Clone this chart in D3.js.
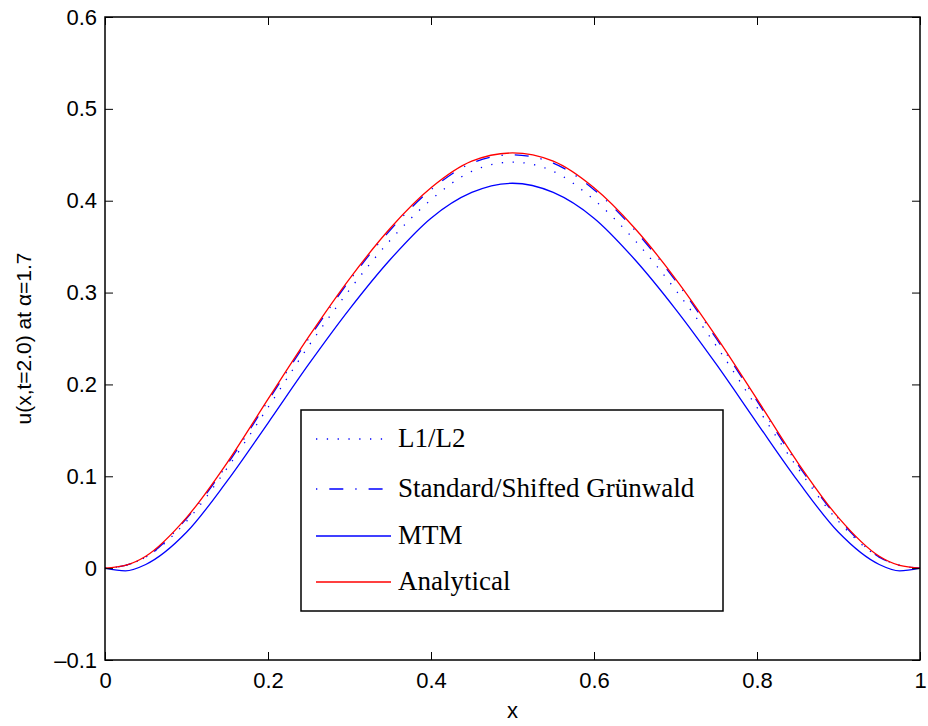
<!DOCTYPE html>
<html>
<head>
<meta charset="utf-8">
<script src="https://cdn.jsdelivr.net/npm/d3@7"></script>
<style>
  body { margin: 0; background: #fff; }
  svg { display: block; }
</style>
</head>
<body>
<svg id="mainsvg" width="928" height="726"></svg>
<script>
// data (x grid shared by all series)
const xs = [0, 0.025, 0.05, 0.1, 0.15, 0.2, 0.25, 0.3, 0.35, 0.4, 0.45, 0.5,
            0.55, 0.6, 0.65, 0.7, 0.75, 0.8, 0.85, 0.9, 0.95, 0.975, 1];
const l1l2       = [0, 0.003, 0.012, 0.051, 0.109, 0.175, 0.242, 0.303, 0.357, 0.401, 0.432, 0.442,
                    0.432, 0.401, 0.357, 0.303, 0.242, 0.175, 0.109, 0.051, 0.012, 0.003, 0];
const grunwald   = [0, 0.003, 0.012, 0.054, 0.113, 0.182, 0.250, 0.313, 0.368, 0.412, 0.441, 0.450,
                    0.441, 0.412, 0.368, 0.313, 0.250, 0.182, 0.113, 0.054, 0.012, 0.003, 0];
const mtm        = [0, -0.003, 0.004, 0.039, 0.095, 0.158, 0.222, 0.282, 0.336, 0.381, 0.409, 0.419,
                    0.409, 0.381, 0.336, 0.282, 0.222, 0.158, 0.095, 0.039, 0.004, -0.003, 0];
const analytical = [0, 0.003, 0.013, 0.055, 0.115, 0.184, 0.252, 0.315, 0.370, 0.414, 0.443, 0.452,
                    0.443, 0.414, 0.370, 0.315, 0.252, 0.184, 0.115, 0.055, 0.013, 0.003, 0];

const xTicks = [0, 0.2, 0.4, 0.6, 0.8, 1];
const yTicks = [-0.1, 0, 0.1, 0.2, 0.3, 0.4, 0.5, 0.6];
const legendNames = ['L1/L2', 'Standard/Shifted Grünwald', 'MTM', 'Analytical'];

const svg = d3.select('#mainsvg');
const margin = {top: 17, right: 8, bottom: 66, left: 105};
const width = +svg.attr('width');
const height = +svg.attr('height');
const innerWidth = width - margin.left - margin.right;
const innerHeight = height - margin.top - margin.bottom;

const xScale = d3.scaleLinear().domain([0, 1]).range([0, innerWidth]);
const yScale = d3.scaleLinear().domain([-0.1, 0.6]).range([innerHeight, 0]);

const g = svg.append('g')
  .attr('transform', `translate(${margin.left}, ${margin.top})`);

const series = [
  {name: legendNames[0], values: l1l2, color: '#0000ff', dash: '1.3,9.5', width: 1.3},
  {name: legendNames[1], values: grunwald, color: '#0000ff', dash: '1.3,12,14,12', width: 1.3},
  {name: legendNames[2], values: mtm, color: '#0000ff', dash: null, width: 1.3},
  {name: legendNames[3], values: analytical, color: '#ff0000', dash: null, width: 1.3}
];

// monotoneX respects the uneven x spacing near the ends
const line = d3.line()
  .curve(d3.curveMonotoneX)
  .x((d, i) => xScale(xs[i]))
  .y(d => yScale(d));

g.selectAll('.curve').data(series).join('path')
  .attr('class', 'curve')
  .attr('d', d => line(d.values))
  .attr('fill', 'none')
  .attr('stroke', d => d.color)
  .attr('stroke-width', d => d.width)
  .attr('stroke-dasharray', d => d.dash);

// axes, ticks point inward, box on all sides
const fmt = d => d < 0 ? '\u2013' + Math.abs(d) : String(d);
const tickLen = 8;

const xBottom = d3.axisBottom(xScale).tickValues(xTicks).tickSize(-tickLen).tickPadding(12).tickFormat(fmt);
const xTop = d3.axisTop(xScale).tickValues(xTicks).tickSize(-tickLen).tickFormat('');
const yLeft = d3.axisLeft(yScale).tickValues(yTicks).tickSize(-tickLen).tickPadding(8).tickFormat(fmt);
const yRight = d3.axisRight(yScale).tickValues(yTicks).tickSize(-tickLen).tickFormat('');

const styleAxis = sel => {
  sel.selectAll('.domain').remove();
  sel.selectAll('.tick line').attr('stroke', '#000').attr('stroke-width', 1);
  sel.selectAll('text')
    .attr('fill', '#000')
    .attr('font-family', 'Liberation Sans, Arial, sans-serif')
    .attr('font-size', 22);
};

g.append('g').attr('transform', `translate(0, ${innerHeight})`).call(xBottom).call(styleAxis);
g.append('g').call(xTop).call(styleAxis);
g.append('g').call(yLeft).call(styleAxis);
g.append('g').attr('transform', `translate(${innerWidth}, 0)`).call(yRight).call(styleAxis);

g.append('rect')
  .attr('width', innerWidth)
  .attr('height', innerHeight)
  .attr('fill', 'none')
  .attr('stroke', '#000')
  .attr('stroke-width', 1.5);

// axis labels
g.append('text')
  .attr('x', xScale(0.5))
  .attr('y', innerHeight + 58)
  .attr('text-anchor', 'middle')
  .attr('font-family', 'Liberation Sans, Arial, sans-serif')
  .attr('font-size', 22)
  .text('x');

g.append('text')
  .attr('transform', 'rotate(-90)')
  .attr('x', -innerHeight / 2)
  .attr('y', -74)
  .attr('text-anchor', 'middle')
  .attr('font-family', 'Liberation Sans, Arial, sans-serif')
  .attr('font-size', 21)
  .text('u(x,t=2.0) at \u03b1=1.7');

// legend
const legend = svg.append('g').attr('transform', 'translate(301, 410)');
legend.append('rect')
  .attr('width', 422)
  .attr('height', 201)
  .attr('fill', '#fff')
  .attr('stroke', '#000')
  .attr('stroke-width', 1.5);

const rowY = [29, 79, 126, 172];
const item = legend.selectAll('.legend').data(series).join('g')
  .attr('class', 'legend')
  .attr('transform', (d, i) => `translate(0, ${rowY[i]})`);

item.append('line')
  .attr('x1', 15).attr('x2', 90)
  .attr('stroke', d => d.color)
  .attr('stroke-width', d => d.width)
  .attr('stroke-dasharray', d => d.dash);

item.append('text')
  .attr('x', 97)
  .attr('y', 8)
  .attr('font-family', 'Liberation Serif, Times New Roman, serif')
  .attr('font-size', 27)
  .attr('fill', '#000')
  .text(d => d.name);
</script>
</body>
</html>
